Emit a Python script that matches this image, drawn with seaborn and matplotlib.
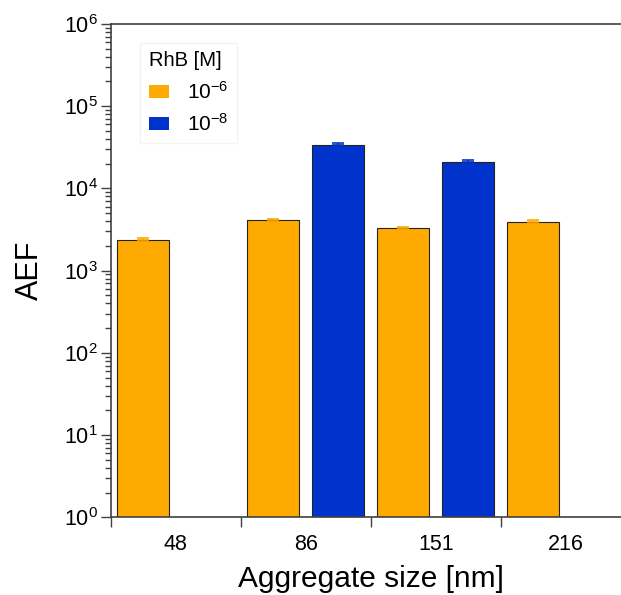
import pandas as pd
import seaborn as sns
import matplotlib.pyplot as plt
from matplotlib.patches import Patch
from matplotlib.ticker import LogLocator, NullFormatter

# data
sizes = ["48", "86", "151", "216"]
conc_levels = ["1e-6", "1e-8"]
aef_1e6 = [2350, 4130, 3270, 3930]
err_1e6 = [180, 150, 100, 200]
aef_1e8 = [None, 33400, 21100, None]
err_1e8 = [None, 2000, 900, None]
legend_labels = [r"$\mathregular{10^{-6}}$", r"$\mathregular{10^{-8}}$"]

colors = {"1e-6": "#FFAA00", "1e-8": "#0033CC"}

rows = []
for s, v, e in zip(sizes, aef_1e6, err_1e6):
    rows.append({"size": s, "conc": "1e-6", "aef": v, "err": e})
for s, v, e in zip(sizes, aef_1e8, err_1e8):
    if v is not None:
        rows.append({"size": s, "conc": "1e-8", "aef": v, "err": e})
df = pd.DataFrame(rows)

sns.set_style("ticks")
plt.rcParams["font.family"] = ["Liberation Sans", "DejaVu Sans"]
plt.rcParams["mathtext.fontset"] = "custom"
plt.rcParams["mathtext.rm"] = "Liberation Sans"
plt.rcParams["mathtext.it"] = "Liberation Sans:italic"
plt.rcParams["text.color"] = "black"
plt.rcParams["xtick.labelcolor"] = "black"
plt.rcParams["ytick.labelcolor"] = "black"
plt.rcParams["axes.labelcolor"] = "black"

fig = plt.figure(figsize=(6.21, 5.95), dpi=100)
ax = fig.add_axes([0.1783, 0.1303, 0.8373, 0.8294])

sns.barplot(
    data=df,
    x="size",
    y="aef",
    hue="conc",
    order=sizes,
    hue_order=conc_levels,
    palette=colors,
    saturation=1,
    width=1.0,
    gap=0.2,
    errorbar=None,
    edgecolor="#222222",
    linewidth=0.8,
    legend=False,
    ax=ax,
)

# error bars on top of each bar, coloured like the bar
for cont, level in zip(ax.containers, conc_levels):
    sub = df[df.conc == level].set_index("size").reindex(sizes).dropna()
    xs = [b.get_x() + b.get_width() / 2 for b in cont]
    hs = [b.get_height() for b in cont]
    ax.errorbar(
        xs, hs, yerr=[[0] * len(hs), list(sub["err"])],
        fmt="none", ecolor=colors[level], elinewidth=1.2, capsize=4, capthick=1.2,
    )

ax.set_yscale("log")
ax.set_ylim(1, 1e6)
ax.set_xlim(-0.5, 3.5)
ax.yaxis.set_major_locator(LogLocator(base=10, numticks=10))
ax.yaxis.set_minor_locator(LogLocator(base=10, subs=range(2, 10), numticks=10))
ax.yaxis.set_minor_formatter(NullFormatter())

ax.set_xticks(range(len(sizes)), sizes)
ax.set_xticks([-0.5, 0.5, 1.5, 2.5, 3.5], minor=True)
ax.tick_params(axis="x", which="major", length=0, pad=12, labelsize=15.5)
ax.tick_params(axis="x", which="minor", length=7.2, width=1.0, color="#404040")
ax.tick_params(axis="y", which="major", length=7.2, width=1.0, pad=2,
               labelsize=15.5, color="#404040")
ax.tick_params(axis="y", which="minor", length=4, width=1.0, color="#404040")

for side in ["left", "top", "bottom"]:
    ax.spines[side].set_color("#404040")
    ax.spines[side].set_linewidth(1.2)
ax.spines["right"].set_visible(False)

ax.set_ylabel("AEF", fontsize=22, labelpad=14)
ax.set_xlabel("Aggregate size [nm]", fontsize=21.5, labelpad=7)

handles = [Patch(facecolor=colors[c], edgecolor="none") for c in conc_levels]
leg = fig.legend(
    handles, legend_labels, title="RhB [M]",
    loc="upper left", bbox_to_anchor=(0.209, 0.945),
    fontsize=15, title_fontsize=14.5,
    handlelength=1.0, handleheight=0.55, handletextpad=0.85,
    labelspacing=0.5, alignment="left",
    frameon=True, fancybox=False, edgecolor="#f2f2f2",
)

fig.savefig("out.png", dpi=100)
